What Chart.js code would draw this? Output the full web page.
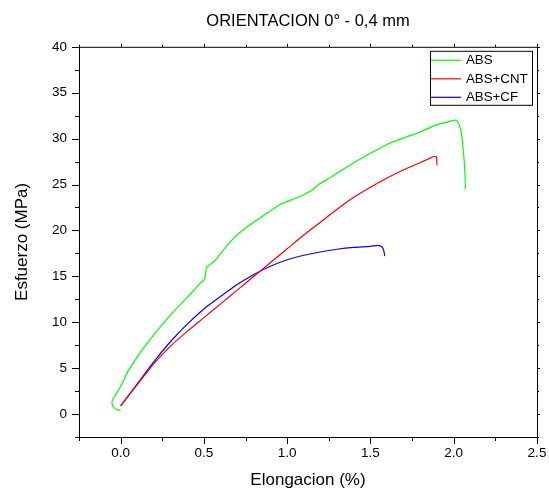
<!DOCTYPE html>
<html>
<head>
<meta charset="utf-8">
<script src="https://cdn.jsdelivr.net/npm/chart.js@4.4.0/dist/chart.umd.min.js"></script>
<style>
  body { margin: 0; background: #fff; }
  #wrap { width: 549px; height: 491px; }
</style>
</head>
<body>
<div id="wrap"><canvas id="curveChart" width="549" height="491"></canvas></div>
<script>
// stress-strain curves, 0 deg orientation, 0.4 mm layer
const seriesNames = ["ABS", "ABS+CNT", "ABS+CF"];
const seriesColors = ["#00ff00", "#ff0000", "#0000ff"];

const absX = [0.0, -0.03, -0.048, -0.052, -0.046, -0.034, 0.0, 0.016, 0.046, 0.126, 0.2, 0.3, 0.4, 0.476, 0.5, 0.506, 0.516, 0.53, 0.566, 0.6, 0.676, 0.76, 0.856, 0.956, 1.076, 1.15, 1.196, 1.236, 1.376, 1.5, 1.616, 1.72, 1.796, 1.896, 1.96, 2.016, 2.035, 2.046, 2.061, 2.068, 2.07];
const absY = [0.4, 0.55, 0.9, 1.3, 1.65, 2.0, 3.0, 3.6, 4.7, 6.9, 8.65, 10.8, 12.7, 14.2, 14.6, 14.8, 16.0, 16.2, 16.7, 17.5, 19.1, 20.4, 21.6, 22.8, 23.7, 24.4, 25.1, 25.5, 27.1, 28.4, 29.5, 30.2, 30.7, 31.5, 31.8, 32.0, 31.4, 30.6, 28.0, 26.0, 24.5];

const cntX = [0.0, 0.1, 0.2, 0.3, 0.4, 0.5, 0.6, 0.7, 0.8, 0.9, 1.0, 1.1, 1.2, 1.3, 1.4, 1.5, 1.6, 1.7, 1.8, 1.85, 1.88, 1.896, 1.898, 1.9];
const cntY = [0.9, 3.2, 5.5, 7.4, 9.0, 10.5, 12.0, 13.5, 15.0, 16.5, 18.0, 19.5, 20.9, 22.3, 23.6, 24.7, 25.7, 26.6, 27.4, 27.8, 28.05, 28.0, 27.6, 27.1];

const cfX = [0.0, 0.1, 0.2, 0.3, 0.4, 0.5, 0.6, 0.7, 0.8, 0.9, 1.0, 1.1, 1.2, 1.3, 1.4, 1.5, 1.546, 1.57, 1.58, 1.586];
const cfY = [0.9, 3.3, 5.7, 7.9, 9.8, 11.45, 12.8, 14.1, 15.2, 16.1, 16.8, 17.3, 17.65, 17.95, 18.15, 18.27, 18.38, 18.2, 17.8, 17.2];

// axis ranges and ticks
const xMin = -0.25, xMax = 2.5, xStep = 0.25, xLabelStep = 0.5;
const yMin = -2.5, yMax = 40, yStep = 2.5, yLabelStep = 5;

const FONT = "'Liberation Sans', Arial, sans-serif";

function toPoints(xs, ys) {
  return xs.map((x, i) => ({ x: x, y: ys[i] }));
}

function isMajor(v, step) {
  const r = v / step;
  return Math.abs(r - Math.round(r)) < 1e-6;
}

// frame + Origin-style tick marks
const frameTicks = {
  id: "frameTicks",
  afterDraw(chart) {
    const { ctx, chartArea: a, scales } = chart;
    ctx.save();
    ctx.strokeStyle = "#000";
    ctx.lineWidth = 1;
    ctx.strokeRect(a.left + 0.5, a.top + 0.5, a.right - a.left, a.bottom - a.top);
    ctx.beginPath();
    scales.x.ticks.forEach(t => {
      const px = Math.round(scales.x.getPixelForValue(t.value)) + 0.5;
      const major = isMajor(t.value, xLabelStep);
      ctx.moveTo(px, a.bottom);
      ctx.lineTo(px, a.bottom + (major ? 7 : 4));
      ctx.moveTo(px, a.top);
      ctx.lineTo(px, a.top - (major ? 3 : 2));
    });
    scales.y.ticks.forEach(t => {
      const py = Math.round(scales.y.getPixelForValue(t.value)) + 0.5;
      const major = isMajor(t.value, yLabelStep);
      ctx.moveTo(a.left, py);
      ctx.lineTo(a.left - (major ? 7 : 4), py);
      ctx.moveTo(a.right, py);
      ctx.lineTo(a.right + (major ? 3 : 2), py);
    });
    ctx.stroke();
    ctx.restore();
  }
};

// boxed legend in the upper right corner
const boxLegend = {
  id: "boxLegend",
  afterDraw(chart) {
    const { ctx, chartArea: a } = chart;
    const sets = chart.data.datasets;
    const w = 102, rowH = 18.5, h = 54;
    const left = a.right - 5 - w, top = a.top + 4;
    ctx.save();
    ctx.fillStyle = "#fff";
    ctx.fillRect(left, top, w, h);
    ctx.strokeStyle = "#000";
    ctx.lineWidth = 1;
    ctx.strokeRect(left + 0.5, top + 0.5, w, h);
    ctx.font = "13.3px " + FONT;
    ctx.textBaseline = "middle";
    sets.forEach((ds, i) => {
      const y = top + 9.5 + i * rowH;
      ctx.strokeStyle = ds.borderColor;
      ctx.lineWidth = 1.2;
      ctx.beginPath();
      ctx.moveTo(left + 1, y);
      ctx.lineTo(left + 31, y);
      ctx.stroke();
      ctx.fillStyle = "#000";
      ctx.fillText(ds.label, left + 36, y + 0.5);
    });
    ctx.restore();
  }
};

const chartData = {
  datasets: [
    { label: seriesNames[0], data: toPoints(absX, absY), borderColor: seriesColors[0] },
    { label: seriesNames[1], data: toPoints(cntX, cntY), borderColor: seriesColors[1] },
    { label: seriesNames[2], data: toPoints(cfX, cfY), borderColor: seriesColors[2] }
  ]
};

chartData.datasets.forEach(ds => {
  ds.borderWidth = 1.2;
  ds.pointRadius = 0;
  ds.fill = false;
  ds.tension = 0.2;
});

const chartConfig = {
  type: "line",
  data: chartData,
  options: {
    responsive: false,
    animation: false,
    layout: { padding: { left: 0, right: 12, top: 0, bottom: 0 } },
    plugins: {
      legend: { display: false },
      tooltip: { enabled: false },
      title: {
        display: true,
        fullSize: false,
        text: "ORIENTACION 0° - 0,4 mm",
        color: "#000",
        font: { family: FONT, size: 16.5, weight: "normal" },
        padding: { top: 12, bottom: 15 }
      }
    },
    scales: {
      x: {
        type: "linear",
        min: xMin,
        max: xMax,
        grid: { display: false, drawTicks: false },
        border: { display: false },
        afterFit: s => { s.height = 54; s.paddingLeft = 0; s.paddingRight = 0; },
        ticks: {
          stepSize: xStep,
          autoSkip: false,
          maxRotation: 0,
          padding: 8,
          color: "#000",
          font: { family: FONT, size: 13.5 },
          callback: v => isMajor(v, xLabelStep) ? v.toFixed(1) : ""
        },
        title: {
          display: true,
          text: "Elongacion (%)",
          color: "#000",
          font: { family: FONT, size: 17 },
          padding: { top: 0, bottom: 0 }
        }
      },
      y: {
        min: yMin,
        max: yMax,
        grid: { display: false, drawTicks: false },
        border: { display: false },
        afterFit: s => { s.width = 79; },
        ticks: {
          stepSize: yStep,
          autoSkip: false,
          padding: 12,
          color: "#000",
          font: { family: FONT, size: 13.5 },
          callback: v => isMajor(v, yLabelStep) ? String(v) : ""
        },
        title: {
          display: true,
          text: "Esfuerzo (MPa)",
          color: "#000",
          font: { family: FONT, size: 17 },
          padding: { top: 12, bottom: 0 }
        }
      }
    }
  },
  plugins: [frameTicks, boxLegend]
};

const ctx = document.getElementById("curveChart").getContext("2d");
let curveChart = new Chart(ctx, chartConfig);
</script>
</body>
</html>
